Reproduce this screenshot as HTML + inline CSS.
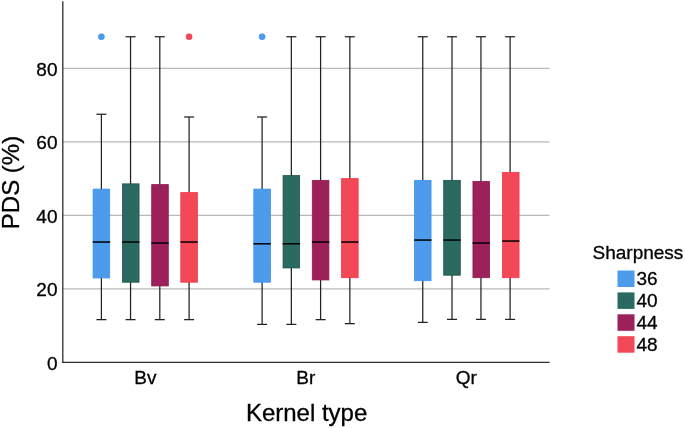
<!DOCTYPE html>
<html><head><meta charset="utf-8"><title>Box plot</title>
<style>html,body{margin:0;padding:0;background:#fff}svg{display:block}</style></head>
<body>
<svg width="685" height="428" viewBox="0 0 685 428">
<rect width="685" height="428" fill="#fff"/>
<g transform="translate(0,0.55)">
<line x1="63" x2="549.5" y1="288.25" y2="288.25" stroke="#b8b8b8" stroke-width="1.3"/>
<line x1="63" x2="549.5" y1="214.75" y2="214.75" stroke="#b8b8b8" stroke-width="1.3"/>
<line x1="63" x2="549.5" y1="141.25" y2="141.25" stroke="#b8b8b8" stroke-width="1.3"/>
<line x1="63" x2="549.5" y1="67.75" y2="67.75" stroke="#b8b8b8" stroke-width="1.3"/>
</g>
<g stroke="#222" stroke-width="1.25" fill="none">
<line x1="101.40" x2="101.40" y1="114.25" y2="319.65"/>
<line x1="96.40" x2="106.40" y1="114.25" y2="114.25"/>
<line x1="96.40" x2="106.40" y1="319.65" y2="319.65"/>
</g>
<rect x="93.10" y="189.10" width="16.60" height="88.85" fill="#4d9ceb" stroke="#3f90ef" stroke-width="0.8"/>
<line x1="92.70" x2="110.10" y1="242.05" y2="242.05" stroke="#000" stroke-width="1.5"/>
<circle cx="101.4" cy="36.75" r="3" fill="#4d9ceb" stroke="#3f90ef" stroke-width="0.7"/>
<g stroke="#222" stroke-width="1.25" fill="none">
<line x1="130.55" x2="130.55" y1="36.75" y2="319.65"/>
<line x1="125.55" x2="135.55" y1="36.75" y2="36.75"/>
<line x1="125.55" x2="135.55" y1="319.65" y2="319.65"/>
</g>
<rect x="122.45" y="183.85" width="16.60" height="98.35" fill="#2a6a60" stroke="#21544b" stroke-width="0.8"/>
<line x1="122.05" x2="139.45" y1="242.05" y2="242.05" stroke="#000" stroke-width="1.5"/>
<g stroke="#222" stroke-width="1.25" fill="none">
<line x1="159.80" x2="159.80" y1="36.75" y2="319.65"/>
<line x1="154.80" x2="164.80" y1="36.75" y2="36.75"/>
<line x1="154.80" x2="164.80" y1="319.65" y2="319.65"/>
</g>
<rect x="151.70" y="184.60" width="16.60" height="101.35" fill="#9c205a" stroke="#8e1b52" stroke-width="0.8"/>
<line x1="151.30" x2="168.70" y1="243.05" y2="243.05" stroke="#000" stroke-width="1.5"/>
<g stroke="#222" stroke-width="1.25" fill="none">
<line x1="189.10" x2="189.10" y1="117.0" y2="319.65"/>
<line x1="184.10" x2="194.10" y1="117.0" y2="117.0"/>
<line x1="184.10" x2="194.10" y1="319.65" y2="319.65"/>
</g>
<rect x="180.80" y="192.60" width="16.60" height="89.60" fill="#f24858" stroke="#f63a4a" stroke-width="0.8"/>
<line x1="180.40" x2="197.80" y1="242.05" y2="242.05" stroke="#000" stroke-width="1.5"/>
<circle cx="189.1" cy="36.75" r="3" fill="#f24858" stroke="#f63a4a" stroke-width="0.7"/>
<g stroke="#222" stroke-width="1.25" fill="none">
<line x1="262.10" x2="262.10" y1="117.0" y2="324.4"/>
<line x1="257.10" x2="267.10" y1="117.0" y2="117.0"/>
<line x1="257.10" x2="267.10" y1="324.4" y2="324.4"/>
</g>
<rect x="253.80" y="189.10" width="16.60" height="93.10" fill="#4d9ceb" stroke="#3f90ef" stroke-width="0.8"/>
<line x1="253.40" x2="270.80" y1="243.8" y2="243.8" stroke="#000" stroke-width="1.5"/>
<circle cx="262.1" cy="36.75" r="3" fill="#4d9ceb" stroke="#3f90ef" stroke-width="0.7"/>
<g stroke="#222" stroke-width="1.25" fill="none">
<line x1="291.35" x2="291.35" y1="36.75" y2="324.4"/>
<line x1="286.35" x2="296.35" y1="36.75" y2="36.75"/>
<line x1="286.35" x2="296.35" y1="324.4" y2="324.4"/>
</g>
<rect x="283.05" y="175.60" width="16.60" height="92.35" fill="#2a6a60" stroke="#21544b" stroke-width="0.8"/>
<line x1="282.65" x2="300.05" y1="243.8" y2="243.8" stroke="#000" stroke-width="1.5"/>
<g stroke="#222" stroke-width="1.25" fill="none">
<line x1="320.60" x2="320.60" y1="36.75" y2="319.65"/>
<line x1="315.60" x2="325.60" y1="36.75" y2="36.75"/>
<line x1="315.60" x2="325.60" y1="319.65" y2="319.65"/>
</g>
<rect x="312.30" y="180.35" width="16.60" height="99.60" fill="#9c205a" stroke="#8e1b52" stroke-width="0.8"/>
<line x1="311.90" x2="329.30" y1="242.05" y2="242.05" stroke="#000" stroke-width="1.5"/>
<g stroke="#222" stroke-width="1.25" fill="none">
<line x1="349.85" x2="349.85" y1="36.75" y2="323.65"/>
<line x1="344.85" x2="354.85" y1="36.75" y2="36.75"/>
<line x1="344.85" x2="354.85" y1="323.65" y2="323.65"/>
</g>
<rect x="341.55" y="178.60" width="16.60" height="99.10" fill="#f24858" stroke="#f63a4a" stroke-width="0.8"/>
<line x1="341.15" x2="358.55" y1="242.05" y2="242.05" stroke="#000" stroke-width="1.5"/>
<g stroke="#222" stroke-width="1.25" fill="none">
<line x1="422.75" x2="422.75" y1="36.75" y2="322.4"/>
<line x1="417.75" x2="427.75" y1="36.75" y2="36.75"/>
<line x1="417.75" x2="427.75" y1="322.4" y2="322.4"/>
</g>
<rect x="414.45" y="180.35" width="16.60" height="100.35" fill="#4d9ceb" stroke="#3f90ef" stroke-width="0.8"/>
<line x1="414.05" x2="431.45" y1="240.05" y2="240.05" stroke="#000" stroke-width="1.5"/>
<g stroke="#222" stroke-width="1.25" fill="none">
<line x1="452.00" x2="452.00" y1="36.75" y2="319.4"/>
<line x1="447.00" x2="457.00" y1="36.75" y2="36.75"/>
<line x1="447.00" x2="457.00" y1="319.4" y2="319.4"/>
</g>
<rect x="443.70" y="180.35" width="16.60" height="94.85" fill="#2a6a60" stroke="#21544b" stroke-width="0.8"/>
<line x1="443.30" x2="460.70" y1="240.05" y2="240.05" stroke="#000" stroke-width="1.5"/>
<g stroke="#222" stroke-width="1.25" fill="none">
<line x1="480.95" x2="480.95" y1="36.75" y2="319.4"/>
<line x1="475.95" x2="485.95" y1="36.75" y2="36.75"/>
<line x1="475.95" x2="485.95" y1="319.4" y2="319.4"/>
</g>
<rect x="472.95" y="181.35" width="16.60" height="96.35" fill="#9c205a" stroke="#8e1b52" stroke-width="0.8"/>
<line x1="472.55" x2="489.95" y1="243.05" y2="243.05" stroke="#000" stroke-width="1.5"/>
<g stroke="#222" stroke-width="1.25" fill="none">
<line x1="510.10" x2="510.10" y1="36.75" y2="319.4"/>
<line x1="505.10" x2="515.10" y1="36.75" y2="36.75"/>
<line x1="505.10" x2="515.10" y1="319.4" y2="319.4"/>
</g>
<rect x="502.45" y="172.35" width="16.60" height="105.35" fill="#f24858" stroke="#f63a4a" stroke-width="0.8"/>
<line x1="502.05" x2="519.45" y1="241.05" y2="241.05" stroke="#000" stroke-width="1.5"/>
<g transform="translate(0,0.55)">
<line x1="62.8" x2="62.8" y1="0.6" y2="362.4" stroke="#2e2e2e" stroke-width="1.3"/>
<line x1="62.2" x2="549.6" y1="361.75" y2="361.75" stroke="#2e2e2e" stroke-width="1.25"/>
</g>
<g font-family="'Liberation Sans', Arial, sans-serif" font-size="19" fill="#000" stroke="#000" stroke-width="0.3">
<text x="57.5" y="369.65" text-anchor="end">0</text>
<text x="57.5" y="296.15" text-anchor="end">20</text>
<text x="57.5" y="222.65" text-anchor="end">40</text>
<text x="57.5" y="149.15" text-anchor="end">60</text>
<text x="57.5" y="75.65" text-anchor="end">80</text>
<text x="145.3" y="383.8" text-anchor="middle">Bv</text>
<text x="305.8" y="383.8" text-anchor="middle">Br</text>
<text x="466.3" y="383.8" text-anchor="middle">Qr</text>
<text x="592.5" y="259" >Sharpness</text>
<rect x="617.5" y="270.50" width="17" height="16.5" fill="#4d9ceb" stroke="none"/>
<text x="636.5" y="285.10">36</text>
<rect x="617.5" y="292.40" width="17" height="16.5" fill="#2a6a60" stroke="none"/>
<text x="636.5" y="307.00">40</text>
<rect x="617.5" y="314.30" width="17" height="16.5" fill="#9c205a" stroke="none"/>
<text x="636.5" y="328.90">44</text>
<rect x="617.5" y="336.20" width="17" height="16.5" fill="#f24858" stroke="none"/>
<text x="636.5" y="350.80">48</text>
</g>
<g font-family="'Liberation Sans', Arial, sans-serif" font-size="24" fill="#000" stroke="#000" stroke-width="0.3">
<text x="306.6" y="420.5" text-anchor="middle">Kernel type</text>
<text transform="translate(19,182.5) rotate(-90)" text-anchor="middle">PDS (%)</text>
</g>
</svg>
</body></html>
